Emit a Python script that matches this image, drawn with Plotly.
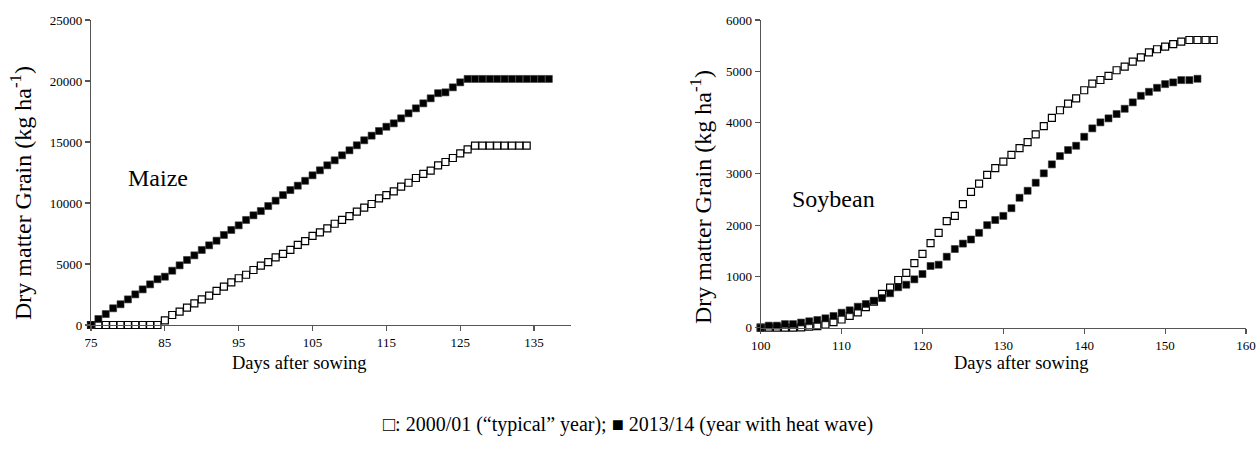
import plotly.graph_objects as go

W, H = 1256, 449

# ---- Maize data (days after sowing, dry matter grain kg/ha) ----
maize_days_typ = list(range(75, 135))
maize_typ = [0, 0, 0, 0, 0, 0, 0, 0, 0, 0,
             380, 820, 1090, 1420, 1780, 2100, 2400, 2790, 3140, 3500,
             3830, 4120, 4510, 4860, 5160, 5550, 5830, 6160, 6560, 6870,
             7300, 7600, 7920, 8300, 8610, 8930, 9290, 9620, 9920, 10380,
             10650, 10950, 11340, 11660, 12050, 12380, 12650, 13090, 13360, 13690,
             14070, 14400, 14700, 14700, 14700, 14700, 14700, 14700, 14700, 14700]

maize_days_heat = list(range(75, 138))
maize_heat = [0, 490, 900, 1370, 1700, 2100, 2510, 2920, 3330, 3750,
              3960, 4450, 4890, 5330, 5710, 6150, 6530, 6910, 7380, 7790,
              8170, 8610, 8990, 9340, 9750, 10190, 10650, 11060, 11420, 11820,
              12270, 12680, 13090, 13500, 13910, 14320, 14730, 15140, 15520, 15900,
              16250, 16530, 16940, 17350, 17760, 18170, 18580, 19000, 19070, 19480,
              19890, 20170, 20170, 20170, 20170, 20170, 20170, 20170, 20170, 20170,
              20170, 20170, 20170]

# ---- Soybean data ----
soy_days_typ = list(range(100, 157))
soy_typ = [0, 0, 0, 0, 0, 5, 20, 30, 60, 110,
           160, 230, 300, 400, 510, 660, 780, 930, 1070, 1260,
           1440, 1650, 1850, 2080, 2180, 2410, 2650, 2810, 2980, 3110,
           3240, 3370, 3500, 3620, 3770, 3930, 4090, 4240, 4370, 4470,
           4630, 4760, 4830, 4910, 5020, 5090, 5190, 5270, 5370, 5430,
           5480, 5530, 5580, 5610, 5610, 5610, 5610]

soy_days_heat = list(range(100, 155))
soy_heat = [0, 40, 40, 70, 70, 100, 125, 150, 183, 228,
            292, 339, 409, 462, 526, 579, 671, 788, 838, 943,
            1047, 1203, 1228, 1384, 1534, 1640, 1720, 1850, 2000, 2100,
            2180, 2330, 2534, 2670, 2827, 3010, 3185, 3347, 3464, 3548,
            3723, 3887, 4004, 4082, 4166, 4269, 4394, 4522, 4600, 4678,
            4750, 4783, 4828, 4828, 4854]

maize_xticks = [75, 85, 95, 105, 115, 125, 135]
maize_yticks = [0, 5000, 10000, 15000, 20000, 25000]
soy_xticks = [100, 110, 120, 130, 140, 150, 160]
soy_yticks = [0, 1000, 2000, 3000, 4000, 5000, 6000]

FONT = "Liberation Serif"

open_marker = dict(symbol="square", size=7, color="white",
                   line=dict(color="black", width=1.2))
fill_marker = dict(symbol="square", size=7, color="black",
                   line=dict(color="#333", width=0.6))

fig = go.Figure()
fig.add_trace(go.Scatter(x=maize_days_typ, y=maize_typ, mode="markers",
                         marker=open_marker, xaxis="x", yaxis="y", cliponaxis=False))
fig.add_trace(go.Scatter(x=maize_days_heat, y=maize_heat, mode="markers",
                         marker=fill_marker, xaxis="x", yaxis="y", cliponaxis=False))
fig.add_trace(go.Scatter(x=soy_days_typ, y=soy_typ, mode="markers",
                         marker=open_marker, xaxis="x2", yaxis="y2", cliponaxis=False))
fig.add_trace(go.Scatter(x=soy_days_heat, y=soy_heat, mode="markers",
                         marker=fill_marker, xaxis="x2", yaxis="y2", cliponaxis=False))


def axis(domain, rng, ticks, anchor):
    return dict(domain=domain, range=rng, tickvals=ticks,
                ticktext=[str(t) for t in ticks], anchor=anchor,
                showgrid=False, zeroline=False, showline=True,
                linecolor="#555", linewidth=1.2, ticks="outside",
                ticklen=5, tickcolor="#555", tickwidth=1.2,
                ticklabeloverflow="allow", automargin=False,
                tickfont=dict(family=FONT, size=13, color="black"))


fig.update_layout(
    width=W, height=H,
    margin=dict(l=0, r=0, t=0, b=0, autoexpand=False),
    paper_bgcolor="white", plot_bgcolor="white",
    font=dict(family=FONT, color="black"),
    showlegend=False,
    xaxis=axis([91 / W, 571 / W], [75, 140], maize_xticks, "y"),
    yaxis=axis([(H - 325) / H, (H - 20) / H], [0, 25000], maize_yticks, "x"),
    xaxis2=axis([760.7 / W, 1246 / W], [100, 160], soy_xticks, "y2"),
    yaxis2=axis([(H - 327.7) / H, (H - 20) / H], [0, 6000], soy_yticks, "x2"),
)

ann = [
    dict(text="Dry matter Grain (kg ha<sup>-1</sup>)", x=21 / W, y=(H - 193) / H,
         textangle=-90, size=24),
    dict(text="Dry matter Grain (kg ha<sup>-1</sup>)", x=701 / W, y=(H - 197) / H,
         textangle=-90, size=24),
    dict(text="Days after sowing", x=299 / W, y=(H - 363) / H, size=18.5),
    dict(text="Days after sowing", x=1021 / W, y=(H - 363) / H, size=18.5),
    dict(text="Maize", x=158 / W, y=(H - 178) / H, size=24),
    dict(text="Soybean", x=833 / W, y=(H - 199) / H, size=24),
    dict(text="□: 2000/01 (“typical” year); ■ 2013/14 (year with heat wave)",
         x=628 / W, y=(H - 424) / H, size=20),
]
for a in ann:
    size = a.pop("size")
    fig.add_annotation(xref="paper", yref="paper", showarrow=False,
                       xanchor="center", yanchor="middle",
                       font=dict(family=FONT, size=size, color="black"), **a)

fig.write_html(
    "out.html",
    config={"displayModeBar": False, "staticPlot": True},
    post_script="document.body.style.margin='0';document.body.style.overflow='hidden';",
)
